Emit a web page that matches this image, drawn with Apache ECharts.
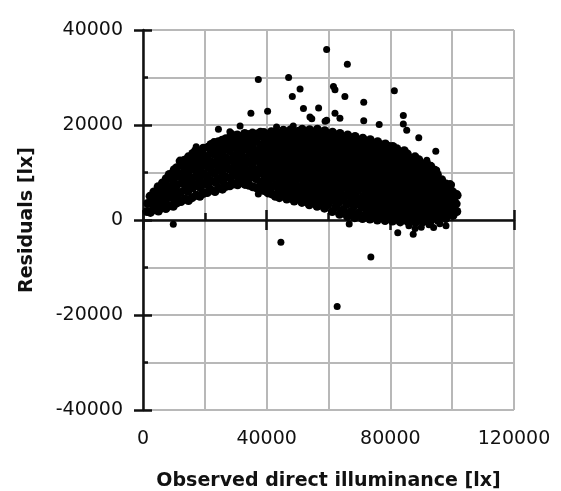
<!DOCTYPE html>
<html><head><meta charset="utf-8">
<script src="https://cdn.jsdelivr.net/npm/echarts/dist/echarts.min.js"></script>
<style>html,body{margin:0;padding:0;background:#fff}#c{width:561px;height:491px}</style>
</head><body><div id="c"></div>
<script>
const xTitle = 'Observed direct illuminance [lx]';
const yTitle = 'Residuals [lx]';
const xTickLabels = [0, 40000, 80000, 120000];
const yTickLabels = [-40000, -20000, 0, 20000, 40000];

const cloudA = [
[1300,1800],[1500,3500],
[2400,1600],[2700,3400],[2300,5000],
[3700,2200],[3900,4300],[3500,5900],
[5000,1900],[4800,3600],[5200,5400],[4900,7000],
[6200,2600],[6400,4600],[6000,6500],[6300,7800],
[7400,2400],[7200,3900],[7600,5800],[7300,7600],[7500,8700],
[8600,3000],[8800,4900],[8400,6900],[8700,8800],[8500,9600],
[9800,2900],[10000,4400],[9600,6200],[9900,8000],[9700,9900],[10100,10600],
[11000,3600],[11200,5300],[10800,7200],[11100,9200],[10900,11000],
[12300,3900],[12100,5800],[12500,7800],[12200,9700],[12400,11800],[12000,12400],
[13500,4400],[13700,6500],[13300,8600],[13600,10700],[13400,12600],
[14700,4100],[14500,6000],[14900,7700],[14600,9800],[14800,11600],[14700,13300],
[15900,4700],[16100,6800],[15700,8800],[16000,10800],[15800,12700],[16100,14000],
[17200,5200],[17000,7300],[17400,9500],[17100,11500],[17300,13500],[17000,14600],
[18400,5000],[18600,6800],[18200,8600],[18500,10400],[18300,12400],[18600,14300],
[19600,5600],[19400,7700],[19800,9700],[19500,11700],[19700,13600],[19500,15100],
[20800,5800],[21000,7400],[20600,9200],[20900,11200],[20700,13100],[21000,15300],
[22000,6300],[21800,8300],[22200,10300],[21900,12300],[22100,14300],[22000,15900],
[23300,6000],[23500,7900],[23100,9800],[23400,11800],[23200,13800],[23500,15600],[23000,16300],
[24500,6700],[24300,8700],[24700,10800],[24400,12800],[24600,14700],[24400,16500]
];

const cloudB = [
[25700,6500],[25900,8200],[25500,10100],[25800,12100],[25600,14100],[25900,15900],[25600,16800],
[26900,7100],[26700,9100],[27100,11100],[26800,13100],[27000,15200],[26800,17100],
[28100,7200],[28300,8800],[27900,10700],[28200,12600],[28000,14600],[28300,16400],[28000,17300],
[29400,7600],[29200,9600],[29600,11600],[29300,13500],[29500,15500],[29300,17400],
[30600,7400],[30800,9000],[30400,10900],[30700,12900],[30500,14800],[30800,16700],[30500,17900],
[31800,7900],[31600,9900],[32000,11900],[31700,13900],[31900,15900],[31700,17600],
[33000,7500],[33200,9200],[32800,11000],[33100,13000],[32900,15000],[33200,16900],[32900,18200],
[34300,7300],[34100,8600],[34500,10300],[34200,12300],[34400,14300],[34100,16200],[34400,18000],
[35500,7000],[35700,9500],[35300,11600],[35600,13600],[35400,15600],[35700,17400],[35400,18300],
[36700,6800],[36500,8700],[36900,10600],[36600,12600],[36800,14600],[36500,16600],[36800,18100],
[37900,6300],[38100,8000],[37700,9900],[38000,11900],[37800,13800],[38100,15800],[37800,17700],[38000,18500],
[39200,6200],[39000,7300],[39400,9100],[39100,11000],[39300,13000],[39000,15000],[39300,17000],[39100,18400],
[40400,5700],[40600,7800],[40200,9900],[40500,12000],[40300,14000],[40600,16000],[40300,18000],
[41600,5500],[41400,6800],[41800,8800],[41500,10800],[41700,12700],[41400,14700],[41700,16800],[41500,18600],
[42800,5000],[43000,7400],[42600,9500],[42900,11500],[42700,13500],[43000,15500],[42700,17500],[42900,18500],
[44100,4700],[43900,6300],[44300,8300],[44000,10300],[44200,12400],[43900,14300],[44200,16300],[44000,18200],
[45300,5200],[45500,7200],[45100,9200],[45400,11300],[45200,13300],[45500,15300],[45200,17300],[45400,18900],
[46500,4400],[46300,6100],[46700,8100],[46400,10200],[46600,12200],[46300,14200],[46600,16200],[46400,18300],
[47700,4900],[47900,7000],[47500,9000],[47800,11000],[47600,13000],[47900,15000],[47600,17000],[47800,19000],
[48900,4000],[48700,5800],[49100,7800],[48800,9800],[49000,11800],[48700,13800],[49000,15800],[48800,17900],
[50200,4500],[50400,6700],[50000,8700],[50300,10700],[50100,12700],[50400,14700],[50100,16700],[50300,18700]
];

const cloudC = [
[51400,3700],[51200,5500],[51600,7400],[51300,9500],[51500,11500],[51200,13500],[51500,15600],[51300,17600],[51500,19100],
[52600,4200],[52800,6300],[52400,8300],[52700,10400],[52500,12400],[52800,14400],[52500,16400],[52700,18400],
[53800,3200],[53600,5100],[54000,7200],[53700,9200],[53900,11200],[53600,13200],[53900,15200],[53700,17300],[53900,19000],
[55000,3900],[55200,6000],[54800,8100],[55100,10100],[54900,12100],[55200,14100],[54900,16100],[55100,18200],
[56300,2900],[56100,4900],[56500,7000],[56200,9000],[56400,11000],[56100,13000],[56400,15000],[56200,17000],[56400,19100],
[57500,3600],[57700,5700],[57300,7800],[57600,9800],[57400,11800],[57700,13800],[57400,15900],[57600,18000],
[58700,2500],[58500,4600],[58900,6600],[58600,8600],[58800,10600],[58500,12700],[58800,14700],[58600,16700],[58800,18800],
[59900,3300],[60100,5400],[59700,7400],[60000,9400],[59800,11500],[60100,13500],[59800,15500],[60000,17600],
[61200,1800],[61000,4200],[61400,6300],[61100,8300],[61300,10300],[61000,12300],[61300,14300],[61100,16400],[61300,18500],
[62400,2800],[62600,5000],[62200,7100],[62500,9100],[62300,11100],[62600,13100],[62300,15200],[62500,17300],
[63600,1200],[63400,3800],[63800,5900],[63500,7900],[63700,9900],[63400,11900],[63700,14000],[63500,16100],[63700,18200],
[64800,2200],[65000,4700],[64600,6800],[64900,8800],[64700,10800],[65000,12800],[64700,14900],[64900,17000],
[66100,800],[65900,3300],[66300,5500],[66000,7600],[66200,9600],[65900,11600],[66200,13700],[66000,15800],[66200,17900],
[67300,1800],[67500,4300],[67100,6500],[67400,8500],[67200,10500],[67500,12500],[67200,14600],[67400,16700],
[68500,500],[68300,3000],[68700,5200],[68400,7300],[68600,9300],[68300,11400],[68600,13500],[68400,15600],[68600,17600],
[69700,1500],[69900,4000],[69500,6200],[69800,8200],[69600,10200],[69900,12300],[69600,14400],[69800,16500],
[71000,300],[70800,2700],[71200,4900],[70900,7000],[71100,9100],[70800,11200],[71100,13300],[70900,15300],[71100,17200],
[72200,1300],[72400,3700],[72000,5900],[72300,8000],[72100,10000],[72400,12100],[72100,14100],[72300,16200],
[73400,200],[73200,2400],[73600,4600],[73300,6800],[73500,8900],[73200,11000],[73500,13100],[73300,15100],[73500,16900],
[74600,1200],[74800,3500],[74400,5700],[74700,7800],[74500,9900],[74800,12000],[74500,14000],[74700,16000]
];

const cloudD = [
[75800,0],[75600,2200],[76000,4400],[75700,6600],[75900,8700],[75600,10800],[75900,12900],[75700,14900],[75900,16500],
[77100,1000],[77300,3300],[76900,5500],[77200,7600],[77000,9700],[77300,11800],[77000,13800],[77200,15800],
[78300,-100],[78100,2100],[78500,4300],[78200,6500],[78400,8600],[78100,10700],[78400,12800],[78200,14800],[78400,16000],
[79500,900],[79700,3200],[79300,5400],[79600,7500],[79400,9600],[79700,11600],[79400,13600],[79600,15500],
[80700,-200],[80500,2000],[80900,4200],[80600,6400],[80800,8500],[80500,10600],[80800,12600],[80600,14600],[80800,15500],
[82000,800],[82200,3100],[81800,5300],[82100,7400],[81900,9500],[82200,11500],[81900,13500],[82100,15000],
[83200,-400],[83000,1900],[83400,4100],[83100,6300],[83300,8400],[83000,10400],[83300,12400],[83100,14300],
[84400,700],[84600,3000],[84200,5200],[84500,7300],[84300,9300],[84600,11300],[84300,13300],[84500,14600],
[85600,-300],[85400,1800],[85800,4000],[85500,6100],[85700,8200],[85400,10200],[85700,12200],[85500,13900],
[86900,600],[87100,2900],[86700,5000],[87000,7100],[86800,9100],[87100,11100],[86800,13000],
[88100,-500],[87900,1700],[88300,3900],[88000,6000],[88200,8000],[87900,10000],[88200,12000],[88000,13300],
[89300,500],[89500,2700],[89100,4900],[89400,7000],[89200,9000],[89500,11000],[89200,12700],
[90500,-400],[90300,1600],[90700,3800],[90400,5900],[90600,7900],[90300,9900],[90600,11800],
[91800,400],[92000,2600],[91600,4700],[91900,6800],[91700,8800],[92000,10800],[91700,12000],
[93000,-200],[92800,1500],[93200,3600],[92900,5700],[93100,7700],[92800,9700],[93100,11300],
[94200,500],[94400,2500],[94000,4600],[94300,6600],[94100,8600],[94400,10500],
[95400,0],[95200,1600],[95600,3500],[95300,5500],[95500,7500],[95200,9600],
[96700,800],[96900,2600],[96500,4500],[96800,6500],[96600,8500],
[97900,300],[97700,1900],[98100,3700],[97800,5600],[98000,7600],
[99100,1200],[99300,3000],[98900,4800],[99200,6800],
[100300,1000],[100100,2300],[100500,4100],[100200,5900],
[101500,1800],[101300,3400],[101600,5200]
];

const upperOutliers = [
[59400,35900],[66100,32800],[47100,30000],[37300,29600],[61600,28100],[62100,27400],
[50800,27600],[81300,27200],[48300,26000],[65300,26000],[71400,24800],[51900,23500],
[56800,23600],[34900,22500],[40300,22900],[62100,22500],[84200,22000],[54600,21300],
[63700,21400],[59400,21000],[71400,20900],[58900,20800],[76400,20100],[84200,20200],
[85300,18900],[89200,17300],[94700,14500],[24400,19100],[28100,18600],[31400,19800],
[43200,19600],[48600,19800],[54000,21700],[17200,15400],[28700,18200],[91800,12600],
[99300,7700],[101500,5600],[99800,7400],[95000,10500],[37300,5500]
];

const lowerOutliers = [
[44600,-4700],[73700,-7800],[62800,-18200],[82400,-2700],[87400,-3000],[66700,-850],
[9800,-900],[86000,-1200],[90000,-1500],[92500,-1000],[96000,-800],[98000,-1200],
[88000,-1800],[94000,-1600]
];

const cloud = cloudA.concat(cloudB, cloudC, cloudD);
const scattered = upperOutliers.concat(lowerOutliers);

const ink = '#111';
const gridCol = '#b8b8b8';
const font = 'DejaVu Sans';
const hiddenTick = {show: true, length: 1, lineStyle: {color: 'rgba(0,0,0,0)', width: 0}};
const plotRect = {left: 143, right: 47, top: 30, bottom: 81, containLabel: false, outerBoundsMode: 'none'};

const chart = echarts.init(document.getElementById('c'), null, {renderer: 'canvas'});
chart.setOption({
  animation: false,
  backgroundColor: '#fff',
  grid: [plotRect, Object.assign({}, plotRect)],
  xAxis: [
    {
      gridIndex: 0, type: 'value', min: 0, max: 120000, interval: 20000, position: 'bottom',
      axisLine: {show: false, onZero: false},
      axisTick: hiddenTick,
      splitLine: {show: true, lineStyle: {color: gridCol, width: 2}},
      axisLabel: {
        margin: 20, color: ink, fontFamily: font, fontSize: 19,
        formatter: v => xTickLabels.includes(v) ? String(v) : ''
      },
      name: xTitle, nameLocation: 'middle', nameGap: 62, nameMoveOverlap: false,
      nameTextStyle: {fontFamily: font, fontWeight: 'bold', fontSize: 19, color: ink}
    },
    {
      gridIndex: 0, type: 'value', min: 0, max: 120000, interval: 40000, position: 'bottom',
      axisLine: {show: true, onZero: true, lineStyle: {color: ink, width: 2.5}},
      axisTick: {show: true, inside: false, length: 10, lineStyle: {color: ink, width: 2.5}},
      axisLabel: {show: false}, splitLine: {show: false}
    },
    {
      gridIndex: 0, type: 'value', min: 0, max: 120000, interval: 40000, position: 'bottom',
      axisLine: {show: false, onZero: true},
      axisTick: {show: true, inside: true, length: 10, lineStyle: {color: ink, width: 2.5}},
      minorTick: {show: true, splitNumber: 2, length: 7, lineStyle: {color: ink, width: 2.5}},
      axisLabel: {show: false}, splitLine: {show: false}
    },
    {
      gridIndex: 1, type: 'value', min: 0, max: 120000, interval: 20000, position: 'bottom',
      axisLine: {show: false, onZero: false},
      axisTick: hiddenTick,
      axisLabel: {show: true, formatter: () => ''},
      splitLine: {show: true, lineStyle: {color: gridCol, width: 2}}
    }
  ],
  yAxis: [
    {
      gridIndex: 0, type: 'value', min: -40000, max: 40000, interval: 10000, position: 'left',
      axisLine: {show: true, onZero: false, lineStyle: {color: ink, width: 2.5}},
      axisTick: hiddenTick,
      splitLine: {show: true, lineStyle: {color: gridCol, width: 2}},
      axisLabel: {
        margin: 20, color: ink, fontFamily: font, fontSize: 19,
        formatter: v => yTickLabels.includes(v) ? String(v) : ''
      },
      name: yTitle, nameLocation: 'middle', nameGap: 106, nameRotate: 90, nameMoveOverlap: false,
      nameTextStyle: {fontFamily: font, fontWeight: 'bold', fontSize: 19, color: ink}
    },
    {
      gridIndex: 0, type: 'value', min: -40000, max: 40000, interval: 20000, position: 'left',
      axisLine: {show: false, onZero: false},
      axisTick: {show: true, inside: false, length: 9, lineStyle: {color: ink, width: 2.5}},
      axisLabel: {show: false}, splitLine: {show: false}
    },
    {
      gridIndex: 0, type: 'value', min: -40000, max: 40000, interval: 20000, position: 'left',
      axisLine: {show: false, onZero: false},
      axisTick: {show: true, inside: true, length: 9, lineStyle: {color: ink, width: 2.5}},
      minorTick: {show: true, splitNumber: 2, length: 5, lineStyle: {color: ink, width: 2.5}},
      axisLabel: {show: false}, splitLine: {show: false}
    },
    {
      gridIndex: 1, type: 'value', min: -40000, max: 40000, interval: 10000, position: 'left',
      axisLine: {show: false, onZero: false},
      axisTick: hiddenTick,
      axisLabel: {show: true, formatter: () => ''},
      splitLine: {show: true, lineStyle: {color: gridCol, width: 2}}
    }
  ],
  series: [
    {
      type: 'scatter', xAxisIndex: 0, yAxisIndex: 0,
      symbol: 'circle', symbolSize: 9,
      itemStyle: {color: '#000', opacity: 1},
      data: cloud, z: 3
    },
    {
      type: 'scatter', xAxisIndex: 0, yAxisIndex: 0,
      symbol: 'circle', symbolSize: 7,
      itemStyle: {color: '#000', opacity: 1},
      data: scattered, z: 3
    }
  ]
});
</script>
</body></html>
